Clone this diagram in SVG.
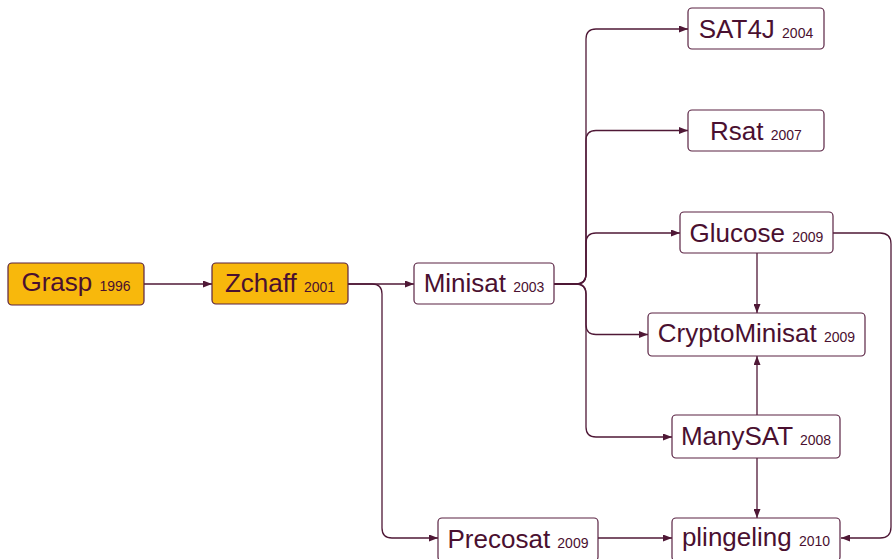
<svg xmlns="http://www.w3.org/2000/svg" width="892" height="559" viewBox="0 0 892 559">
<style>
.box{fill:#ffffff;stroke:#5a2343;stroke-width:1.2}
.hl{fill:#f8b80c}
.lbl{font-family:"Liberation Sans",Arial,sans-serif;font-size:26px;fill:#4a1030;text-anchor:middle}
.yr{font-size:14px}
.edge{fill:none;stroke:#4f1836;stroke-width:1.3}
</style>
<defs>
<marker id="arr" markerUnits="userSpaceOnUse" markerWidth="9" markerHeight="7" refX="9" refY="3.5" orient="auto">
<path d="M0,0 L9,3.5 L0,7 z" fill="#4f1836"/>
</marker>
</defs>
<g id="connectors">
<path class="edge" d="M144,284 H212" marker-end="url(#arr)"/>
<path class="edge" d="M348,284 H414" marker-end="url(#arr)"/>
<path class="edge" d="M348,284 H372 Q382,284 382,294 V528 Q382,538 392,538 H438" marker-end="url(#arr)"/>
<path class="edge" d="M554,284 H576 Q586,284 586,274 V39 Q586,29 596,29 H688" marker-end="url(#arr)"/>
<path class="edge" d="M554,284 H576 Q586,284 586,274 V140.5 Q586,130.5 596,130.5 H688" marker-end="url(#arr)"/>
<path class="edge" d="M554,284 H576 Q586,284 586,274 V243 Q586,233 596,233 H680" marker-end="url(#arr)"/>
<path class="edge" d="M554,284 H576 Q586,284 586,294 V324.5 Q586,334.5 596,334.5 H648" marker-end="url(#arr)"/>
<path class="edge" d="M554,284 H576 Q586,284 586,294 V427 Q586,437 596,437 H672" marker-end="url(#arr)"/>
<path class="edge" d="M757,253 V313" marker-end="url(#arr)"/>
<path class="edge" d="M757,415 V356" marker-end="url(#arr)"/>
<path class="edge" d="M757,458 V518" marker-end="url(#arr)"/>
<path class="edge" d="M598,538 H672" marker-end="url(#arr)"/>
<path class="edge" d="M833,233 H880 Q891,233 891,244 V527 Q891,538 880,538 H841" marker-end="url(#arr)"/>
</g>
<g id="grasp">
<rect class="box hl" x="8" y="263" width="136" height="42" rx="4"/>
<text class="lbl" x="76" y="291">Grasp <tspan class="yr">1996</tspan></text>
</g>
<g id="zchaff">
<rect class="box hl" x="212" y="263" width="136" height="41" rx="4"/>
<text class="lbl" x="280" y="292">Zchaff <tspan class="yr">2001</tspan></text>
</g>
<g id="minisat">
<rect class="box" x="414" y="263" width="140" height="41" rx="4"/>
<text class="lbl" x="484" y="292">Minisat <tspan class="yr">2003</tspan></text>
</g>
<g id="sat4j">
<rect class="box" x="688" y="8" width="136" height="41" rx="4"/>
<text class="lbl" x="756" y="37.5">SAT4J <tspan class="yr">2004</tspan></text>
</g>
<g id="rsat">
<rect class="box" x="688" y="110" width="136" height="41" rx="4"/>
<text class="lbl" x="756" y="139.5">Rsat <tspan class="yr">2007</tspan></text>
</g>
<g id="glucose">
<rect class="box" x="680" y="212" width="153" height="41" rx="4"/>
<text class="lbl" x="756.5" y="241.5">Glucose <tspan class="yr">2009</tspan></text>
</g>
<g id="cryptominisat">
<rect class="box" x="648" y="313" width="217" height="43" rx="4"/>
<text class="lbl" x="756.5" y="342">CryptoMinisat <tspan class="yr">2009</tspan></text>
</g>
<g id="manysat">
<rect class="box" x="672" y="415" width="168" height="43" rx="4"/>
<text class="lbl" x="756" y="444.5">ManySAT <tspan class="yr">2008</tspan></text>
</g>
<g id="precosat">
<rect class="box" x="438" y="518" width="160" height="43" rx="4"/>
<text class="lbl" x="518" y="548">Precosat <tspan class="yr">2009</tspan></text>
</g>
<g id="plingeling">
<rect class="box" x="672" y="518" width="168" height="43" rx="4"/>
<text class="lbl" x="756" y="546">plingeling <tspan class="yr">2010</tspan></text>
</g>
</svg>
